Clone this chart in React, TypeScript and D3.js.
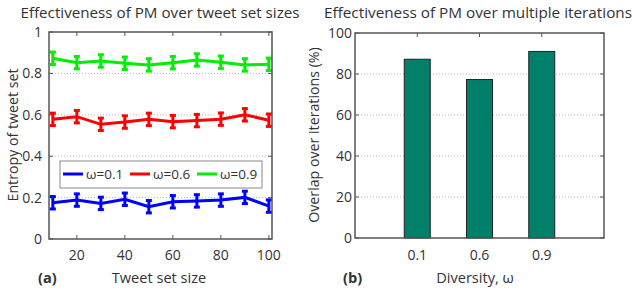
import React from 'react';
import * as d3 from 'd3';

// data
const sizes = [10, 20, 30, 40, 50, 60, 70, 80, 90, 100];
const entropyW01 = [0.175, 0.188, 0.172, 0.192, 0.156, 0.18, 0.184, 0.188, 0.201, 0.159];
const entropyW06 = [0.578, 0.591, 0.554, 0.565, 0.578, 0.567, 0.572, 0.579, 0.6, 0.574];
const entropyW09 = [0.873, 0.852, 0.86, 0.849, 0.841, 0.852, 0.865, 0.854, 0.841, 0.844];
const errW01 = [0.03, 0.03, 0.03, 0.03, 0.03, 0.03, 0.03, 0.03, 0.03, 0.03];
const errW06 = [0.03, 0.03, 0.03, 0.03, 0.03, 0.03, 0.03, 0.03, 0.03, 0.03];
const errW09 = [0.03, 0.03, 0.03, 0.03, 0.03, 0.03, 0.03, 0.03, 0.03, 0.03];
const seriesNames = ['ω=0.1', 'ω=0.6', 'ω=0.9'];
const seriesColors = ['#0000ff', '#ff0000', '#00ee00'];
const entropyTicks = [0, 0.2, 0.4, 0.6, 0.8, 1];
const sizeTicks = [20, 40, 60, 80, 100];

const diversity = ['0.1', '0.6', '0.9'];
const overlap = [87.2, 77.3, 91];
const overlapTicks = [0, 20, 40, 60, 80, 100];

const font = "'Open Sans', sans-serif";
const ink = '#333';
const axisCol = '#555';

const App = () => {
  // panel (a)
  const xA = d3.scaleLinear().domain([8.4, 101.3]).range([49, 272]);
  const yA = d3.scaleLinear().domain([0, 1]).range([239, 32]);
  const line = d3
    .line<number>()
    .x((d, i) => xA(sizes[i]))
    .y((d) => yA(d));
  const series = [
    { vals: entropyW01, err: errW01 },
    { vals: entropyW06, err: errW06 },
    { vals: entropyW09, err: errW09 },
  ];

  // panel (b)
  const xB = d3.scaleBand().domain(diversity).range([355, 604]).paddingOuter(0.5).paddingInner(0);
  const yB = d3.scaleLinear().domain([0, 100]).range([238, 33]);
  const barW = 26;

  return (
    <svg width={636} height={293} style={{ position: 'absolute', left: 0, top: 0, background: '#fff' }} fontFamily={font}>
      {/* ---------- (a) ---------- */}
      <text x={160} y={18} textAnchor="middle" fontSize={15.2} fill={ink}>
        Effectiveness of PM over tweet set sizes
      </text>
      {entropyTicks.slice(1, -1).map((t) => (
        <line key={t} x1={49} x2={272} y1={yA(t)} y2={yA(t)} stroke="#bbb" strokeDasharray="1,2" />
      ))}
      {entropyTicks.map((t) => (
        <g key={'ya' + t}>
          <line x1={49} x2={53} y1={yA(t)} y2={yA(t)} stroke={axisCol} />
          <line x1={268} x2={272} y1={yA(t)} y2={yA(t)} stroke={axisCol} />
          <text x={42} y={yA(t) + 5} textAnchor="end" fontSize={14} fill={ink}>
            {t}
          </text>
        </g>
      ))}
      {sizeTicks.map((t) => (
        <g key={'xa' + t}>
          <line x1={xA(t)} x2={xA(t)} y1={239} y2={235} stroke={axisCol} />
          <line x1={xA(t)} x2={xA(t)} y1={32} y2={36} stroke={axisCol} />
          <text x={xA(t)} y={260} textAnchor="middle" fontSize={14} fill={ink}>
            {t}
          </text>
        </g>
      ))}
      {series.map((s, k) => (
        <g key={'s' + k} stroke={seriesColors[k]} strokeWidth={3} fill="none">
          <path d={line(s.vals) || ''} />
          {s.vals.map((v, i) => (
            <g key={i}>
              <line x1={xA(sizes[i])} x2={xA(sizes[i])} y1={yA(v - s.err[i])} y2={yA(v + s.err[i])} />
              <line x1={xA(sizes[i]) - 3} x2={xA(sizes[i]) + 3} y1={yA(v - s.err[i])} y2={yA(v - s.err[i])} />
              <line x1={xA(sizes[i]) - 3} x2={xA(sizes[i]) + 3} y1={yA(v + s.err[i])} y2={yA(v + s.err[i])} />
            </g>
          ))}
        </g>
      ))}
      <rect x={49} y={32} width={223} height={207} fill="none" stroke={axisCol} strokeWidth={1.5} />
      {/* legend */}
      <rect x={60} y={161} width={202} height={27} fill="#fff" stroke="#888" />
      {seriesNames.map((n, k) => (
        <g key={n}>
          <line x1={63 + k * 67} x2={83 + k * 67} y1={174} y2={174} stroke={seriesColors[k]} strokeWidth={3} />
          <text x={86 + k * 67} y={179} fontSize={13.5} fill={ink}>
            {n}
          </text>
        </g>
      ))}
      <text transform="translate(18,135) rotate(-90)" textAnchor="middle" fontSize={14.2} fill={ink}>
        Entropy of tweet set
      </text>
      <text x={159} y={283} textAnchor="middle" fontSize={14.6} fill={ink}>
        Tweet set size
      </text>
      <text x={38} y={283} fontSize={14.6} fontWeight="bold" fill={ink}>
        (a)
      </text>

      {/* ---------- (b) ---------- */}
      <text x={478} y={18} textAnchor="middle" fontSize={15.3} fill={ink}>
        Effectiveness of PM over multiple iterations
      </text>
      {overlapTicks.slice(1, -1).map((t) => (
        <line key={t} x1={355} x2={604} y1={yB(t)} y2={yB(t)} stroke="#bbb" strokeDasharray="1,2" />
      ))}
      {overlapTicks.map((t) => (
        <g key={'yb' + t}>
          <line x1={355} x2={359} y1={yB(t)} y2={yB(t)} stroke={axisCol} />
          <line x1={600} x2={604} y1={yB(t)} y2={yB(t)} stroke={axisCol} />
          <text x={352} y={yB(t) + 5} textAnchor="end" fontSize={14} fill={ink}>
            {t}
          </text>
        </g>
      ))}
      {diversity.map((d, i) => {
        const cx = (xB(d) || 0) + xB.bandwidth() / 2;
        return (
          <g key={d}>
            <rect x={cx - barW / 2} y={yB(overlap[i])} width={barW} height={yB(0) - yB(overlap[i])} fill="#00806a" stroke="#222" strokeWidth={1} />
            <line x1={cx} x2={cx} y1={33} y2={37} stroke={axisCol} />
            <text x={cx} y={260} textAnchor="middle" fontSize={14} fill={ink}>
              {d}
            </text>
          </g>
        );
      })}
      <rect x={355} y={33} width={249} height={205} fill="none" stroke={axisCol} strokeWidth={1.5} />
      <text transform="translate(319,135) rotate(-90)" textAnchor="middle" fontSize={14.2} fill={ink}>
        Overlap over iterations (%)
      </text>
      <text x={475} y={283} textAnchor="middle" fontSize={14.6} fill={ink}>
        Diversity, ω
      </text>
      <text x={343} y={283} fontSize={14.6} fontWeight="bold" fill={ink}>
        (b)
      </text>
    </svg>
  );
};

export default App;
